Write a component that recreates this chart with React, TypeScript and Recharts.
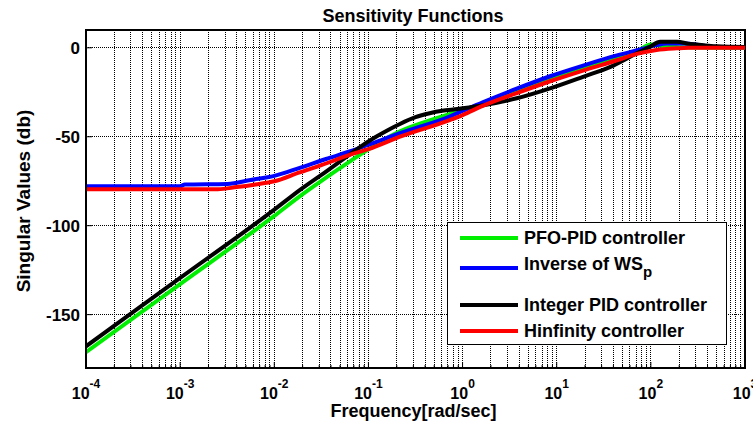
import React from 'react';
import { LineChart, Line, XAxis, YAxis, CartesianGrid, Legend, ReferenceArea } from 'recharts';

// log10(frequency [rad/sec]) and singular values (dB)
const pfoLogFreq = [-4, -3, -2, -1.73, -1.45, -1.2, -1.0, -0.665, -0.3, 0, 0.22, 0.575, 0.93, 1.28, 1.64, 1.85, 2.0, 2.1, 2.3, 3];
const pfoValues = [-171.1, -132.8, -94.5, -83.5, -73, -64, -57, -47, -40, -35, -31.5, -24.3, -17.5, -11.5, -5.5, -2, 1.8, 1.2, 0.3, 0];

const invLogFreq = [-4, -3.0, -2.95, -2.5, -2.25, -2.0, -1.73, -1.45, -1.2, -1.0, -0.665, -0.13, 0, 0.22, 0.575, 0.93, 1.28, 1.64, 1.92, 2.06, 2.17, 2.35, 2.56, 2.7, 3];
const invValues = [-77.8, -77.8, -76.9, -76.5, -74.3, -72, -67.5, -62.5, -58.3, -54.5, -48, -38.5, -35.5, -30.5, -23, -16, -10, -4.3, -0.5, 1.5, 2.4, 2.4, 1.2, 0.4, 0.3];

const pidLogFreq = [-4, -3, -2, -1.73, -1.45, -1.2, -1.09, -0.95, -0.8, -0.665, -0.5, -0.35, -0.2, 0, 0.22, 0.575, 0.93, 1.28, 1.57, 1.815, 1.99, 2.1, 2.275, 2.42, 2.56, 2.7, 3];
const pidValues = [-167.8, -129.4, -91, -80, -69.6, -60, -55.8, -51, -46.5, -42.8, -39, -36.8, -35.3, -34, -32.3, -28.4, -22.8, -16.3, -10.7, -4.1, 0.6, 3.4, 3.4, 2.1, 1.5, 0.8, 0.4];

const hinfLogFreq = [-4, -2.6, -2.4, -2.2, -2.0, -1.73, -1.5, -1.2, -1.0, -0.665, -0.13, 0, 0.22, 0.575, 0.93, 1.28, 1.64, 1.85, 2.06, 2.275, 2.4, 3];
const hinfValues = [-79.5, -79.5, -78.3, -76.8, -75, -70, -66, -60.2, -57, -50, -40.5, -37.8, -32.5, -25.5, -18.8, -12.8, -7, -3.4, -1.2, -0.3, 0, 0];

const yTicks = [-150, -100, -50, 0];
const yDomain = [-180, 10];
const xDomain = [1e-4, 1e3];
const decadeExponents = [-4, -3, -2, -1, 0, 1, 2, 3];
const minorMultipliers = [1, 2, 3, 4, 5, 6, 7, 8, 9];

const xTicks: number[] = [];
decadeExponents.forEach((e) => {
  if (e === 3) {
    xTicks.push(Math.pow(10, e));
  } else {
    minorMultipliers.forEach((m) => xTicks.push(m * Math.pow(10, e)));
  }
});

const toRows = (lf: number[], v: number[]) => lf.map((l, i) => ({ f: Math.pow(10, l), v: v[i] }));

const series = [
  { name: 'PFO-PID controller', color: '#00ee00', data: toRows(pfoLogFreq, pfoValues) },
  { name: 'Inverse of WS', sub: 'p', color: '#0000ff', data: toRows(invLogFreq, invValues) },
  { name: 'Integer PID controller', color: '#000000', data: toRows(pidLogFreq, pidValues) },
  { name: 'Hinfinity controller', color: '#ff0000', data: toRows(hinfLogFreq, hinfValues) },
];

const FONT = '"Liberation Sans", Arial, Helvetica, sans-serif';

const isMajor = (v: number) => {
  const l = Math.log10(v);
  return Math.abs(l - Math.round(l)) < 1e-9;
};

const BottomTick = (props: any) => {
  const { x, y, payload } = props;
  const major = isMajor(payload.value);
  const exp = Math.round(Math.log10(payload.value));
  return (
    <g>
      <line x1={x} y1={y} x2={x} y2={y - (major ? 6 : 3)} stroke="#000" strokeWidth={1} />
      {major && (
        <text x={x} y={y + 31} textAnchor="middle" fontFamily={FONT} fontWeight="bold" fontSize={16} fill="#000">
          <tspan>10</tspan>
          <tspan dy={-11} fontSize={12}>{exp}</tspan>
        </text>
      )}
    </g>
  );
};

const LeftTick = (props: any) => {
  const { x, y, payload } = props;
  return (
    <g>
      <line x1={x} y1={y} x2={x + 6} y2={y} stroke="#000" strokeWidth={1} />
      <text x={x - 6} y={y + 6} textAnchor="end" fontFamily={FONT} fontWeight="bold" fontSize={17} fill="#000">
        {payload.value}
      </text>
    </g>
  );
};

const renderXLabel = (props: any) => {
  const vb = props.viewBox;
  return (
    <text x={vb.x + vb.width / 2 - 2} y={vb.y + 49} textAnchor="middle" fontFamily={FONT} fontWeight="bold" fontSize={18} fill="#000">
      Frequency[rad/sec]
    </text>
  );
};

const renderYLabel = (props: any) => {
  const vb = props.viewBox;
  const cx = vb.x + 23;
  const cy = vb.y + vb.height / 2 + 2;
  return (
    <text x={cx} y={cy} transform={`rotate(-90 ${cx} ${cy})`} textAnchor="middle" dominantBaseline="central" fontFamily={FONT} fontWeight="bold" fontSize={19} fill="#000">
      Singular Values (db)
    </text>
  );
};

const legendRowCenters = [15, 45, 82, 108];

const renderLegend = () => (
  <div
    style={{
      position: 'relative',
      width: 280,
      height: 123,
      boxSizing: 'border-box',
      border: '1.5px solid #000',
      background: '#fff',
      fontFamily: FONT,
      fontWeight: 'bold',
      fontSize: 18,
      color: '#000',
    }}
  >
    {series.map((s, i) => (
      <div
        key={s.name}
        style={{ position: 'absolute', left: 12, top: legendRowCenters[i] - 12, height: 24, display: 'flex', alignItems: 'center', whiteSpace: 'nowrap' }}
      >
        <svg width={58} height={6} style={{ display: 'block' }}>
          <line x1={0} y1={3} x2={58} y2={3} stroke={s.color} strokeWidth={4} />
        </svg>
        <span style={{ marginLeft: 6, lineHeight: '24px' }}>
          {s.name}
          {s.sub && <sub style={{ fontSize: 15, verticalAlign: -7 }}>{s.sub}</sub>}
        </span>
      </div>
    ))}
  </div>
);

export default function App() {
  return (
    <div style={{ position: 'absolute', left: 0, top: 0, width: 753, height: 430, background: '#fff' }}>
      <div
        style={{
          position: 'absolute',
          left: 0,
          top: 5,
          width: 826,
          textAlign: 'center',
          fontFamily: FONT,
          fontWeight: 'bold',
          fontSize: 18,
          lineHeight: '22px',
          color: '#000',
          zIndex: 2,
        }}
      >
        Sensitivity Functions
      </div>
      <LineChart width={753} height={430} margin={{ top: 30, right: 8, bottom: 0, left: 0 }}>
        <CartesianGrid
          stroke="#000"
          strokeDasharray="1 1"
          strokeWidth={1}
          shapeRendering="crispEdges"
          horizontalValues={yTicks}
          verticalValues={xTicks}
        />
        <XAxis
          dataKey="f"
          type="number"
          scale="log"
          domain={xDomain}
          allowDataOverflow
          ticks={xTicks}
          interval={0}
          height={62}
          tickSize={0}
          tickMargin={0}
          tickLine={false}
          tick={BottomTick}
          axisLine={{ stroke: '#000', strokeWidth: 2 }}
          label={renderXLabel}
        />
        <YAxis
          type="number"
          domain={yDomain}
          allowDataOverflow
          ticks={yTicks}
          interval={0}
          width={86}
          tickSize={0}
          tickMargin={0}
          tickLine={false}
          tick={LeftTick}
          axisLine={{ stroke: '#000', strokeWidth: 2 }}
          label={renderYLabel}
        />
        <ReferenceArea
          x1={xDomain[0]}
          x2={xDomain[1]}
          y1={yDomain[0]}
          y2={yDomain[1]}
          fill="none"
          fillOpacity={0}
          stroke="#000"
          strokeWidth={2}
          ifOverflow="visible"
        />
        {series.map((s) => (
          <Line
            key={s.name}
            data={s.data}
            dataKey="v"
            name={s.name}
            type="monotone"
            stroke={s.color}
            strokeWidth={4}
            strokeLinejoin="round"
            dot={false}
            activeDot={false}
            isAnimationActive={false}
          />
        ))}
        <Legend
          layout="vertical"
          align="center"
          verticalAlign="middle"
          content={renderLegend}
          wrapperStyle={{ left: 447, top: 222, width: 280, height: 123 }}
        />
      </LineChart>
    </div>
  );
}
